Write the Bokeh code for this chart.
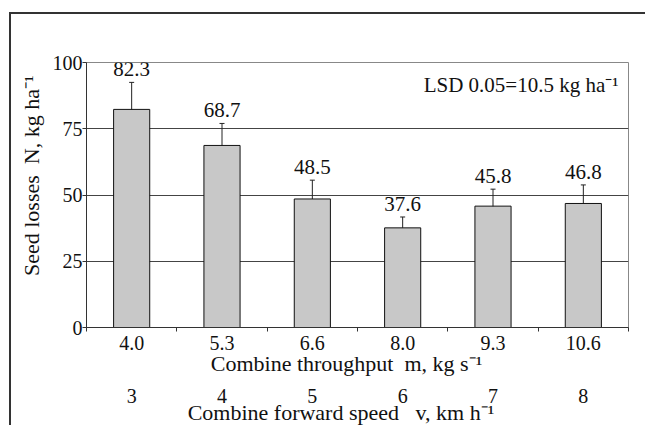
from bokeh.plotting import figure
from bokeh.models import (Range1d, FixedTicker, LinearAxis, ColumnDataSource,
                          Whisker, TeeHead, Label)
from bokeh.embed import file_html
from bokeh.resources import INLINE
from bokeh.core.properties import value

# ---- data ----
throughput = ["4.0", "5.3", "6.6", "8.0", "9.3", "10.6"]
speed = ["3", "4", "5", "6", "7", "8"]
losses = [82.3, 68.7, 48.5, 37.6, 45.8, 46.8]
errors = [10.2, 8.3, 7.1, 4.1, 6.4, 7.0]
value_labels = ["82.3", "68.7", "48.5", "37.6", "45.8", "46.8"]
y_ticks = [0, 25, 50, 75, 100]
lsd_text = "LSD 0.05=10.5 kg ha\u207b\u00b9"
y_title = "Seed losses\u00a0\u00a0N, kg ha\u207b\u00b9"
x_title_1 = "Combine throughput\u00a0\u00a0m, kg s\u207b\u00b9"
x_title_2 = "Combine forward speed\u00a0\u00a0\u00a0v, km h\u207b\u00b9"

FONT = "serif"
n = len(losses)
pos = [i + 0.5 for i in range(n)]
bounds = list(range(n + 1))

src = ColumnDataSource(dict(
    x=pos, top=losses,
    upper=[v + e for v, e in zip(losses, errors)],
    lower=[v - e for v, e in zip(losses, errors)],
    lab=value_labels,
))

p = figure(width=636, height=413, x_range=Range1d(0, n), y_range=Range1d(0, 100),
           output_backend="svg", toolbar_location=None,
           min_border_left=75, min_border_right=19, min_border_top=48, min_border_bottom=99)
p.styles = {"border-left": "2px solid #333", "border-top": "2px solid #333",
            "margin-left": "9px", "margin-top": "12px"}
p.background_fill_color = "white"
p.border_fill_color = "white"
p.outline_line_color = "#888888"
p.outline_line_width = 1

# bars
p.vbar(x="x", top="top", width=0.4, bottom=0, source=src,
       fill_color="#c8c8c8", line_color="#111111", line_width=1)

# error bars
wh = Whisker(source=src, base="x", upper="upper", lower="lower",
             line_color="#222222", line_width=1,
             upper_head=TeeHead(size=5, line_color="#222222", line_width=1),
             lower_head=TeeHead(size=5, line_color="#222222", line_width=1))
p.add_layout(wh)

# value labels
p.text(x="x", y="upper", text="lab", source=src, text_align="center",
       text_baseline="middle", y_offset=-13,
       text_font=value(FONT), text_font_size="21px", text_color="#111111")

# LSD annotation
p.add_layout(Label(x=5.89, y=91.4, text=lsd_text, text_align="right",
                   text_baseline="middle", text_font=FONT,
                   text_font_size="21px", text_color="#111111"))

# grid
p.xgrid.visible = False
p.ygrid.ticker = FixedTicker(ticks=y_ticks)
p.ygrid.grid_line_color = "#444444"
p.ygrid.grid_line_width = 1

# y axis
ya = p.yaxis[0]
ya.ticker = FixedTicker(ticks=y_ticks)
ya.axis_line_color = "#333333"
ya.major_tick_out = 4
ya.major_tick_in = 0
ya.minor_tick_line_color = None
ya.major_tick_line_color = "#333333"
ya.major_label_standoff = 0
ya.major_label_text_font = FONT
ya.major_label_text_font_size = "20px"
ya.major_label_text_color = "#111111"
ya.axis_label = "\u00a0" * 7 + y_title
ya.axis_label_text_font = FONT
ya.axis_label_text_font_size = "22px"
ya.axis_label_text_font_style = "normal"
ya.axis_label_text_color = "#111111"
ya.axis_label_standoff = 6

# x axis 1 (throughput)
xa = p.xaxis[0]
xa.ticker = FixedTicker(ticks=pos, minor_ticks=bounds)
xa.major_label_overrides = {t: lab for t, lab in zip(pos, throughput)}
xa.axis_line_color = "#333333"
xa.major_tick_line_color = None
xa.major_tick_out = 0
xa.major_tick_in = 0
xa.minor_tick_line_color = "#333333"
xa.minor_tick_out = 4
xa.minor_tick_in = 0
xa.major_label_standoff = 4
xa.major_label_text_font = FONT
xa.major_label_text_font_size = "20px"
xa.major_label_text_color = "#111111"
xa.axis_label = x_title_1 + "\u00a0" * 4
xa.axis_label_text_font = FONT
xa.axis_label_text_font_size = "22px"
xa.axis_label_text_font_style = "normal"
xa.axis_label_text_color = "#111111"
xa.axis_label_standoff = -2

# x axis 2 (forward speed)
xb = LinearAxis(ticker=FixedTicker(ticks=pos))
xb.major_label_overrides = {t: lab for t, lab in zip(pos, speed)}
xb.axis_line_color = None
xb.major_tick_line_color = None
xb.minor_tick_line_color = None
xb.major_tick_out = 0
xb.major_tick_in = 0
xb.major_label_standoff = 10
xb.major_label_text_font = FONT
xb.major_label_text_font_size = "20px"
xb.major_label_text_color = "#111111"
xb.axis_label = x_title_2 + "\u00a0" * 6
xb.axis_label_text_font = FONT
xb.axis_label_text_font_size = "22px"
xb.axis_label_text_font_style = "normal"
xb.axis_label_text_color = "#111111"
xb.axis_label_text_line_height = 1.0
xb.axis_label_standoff = -6
p.add_layout(xb, "below")

open("out.html", "w").write(file_html(p, INLINE))
